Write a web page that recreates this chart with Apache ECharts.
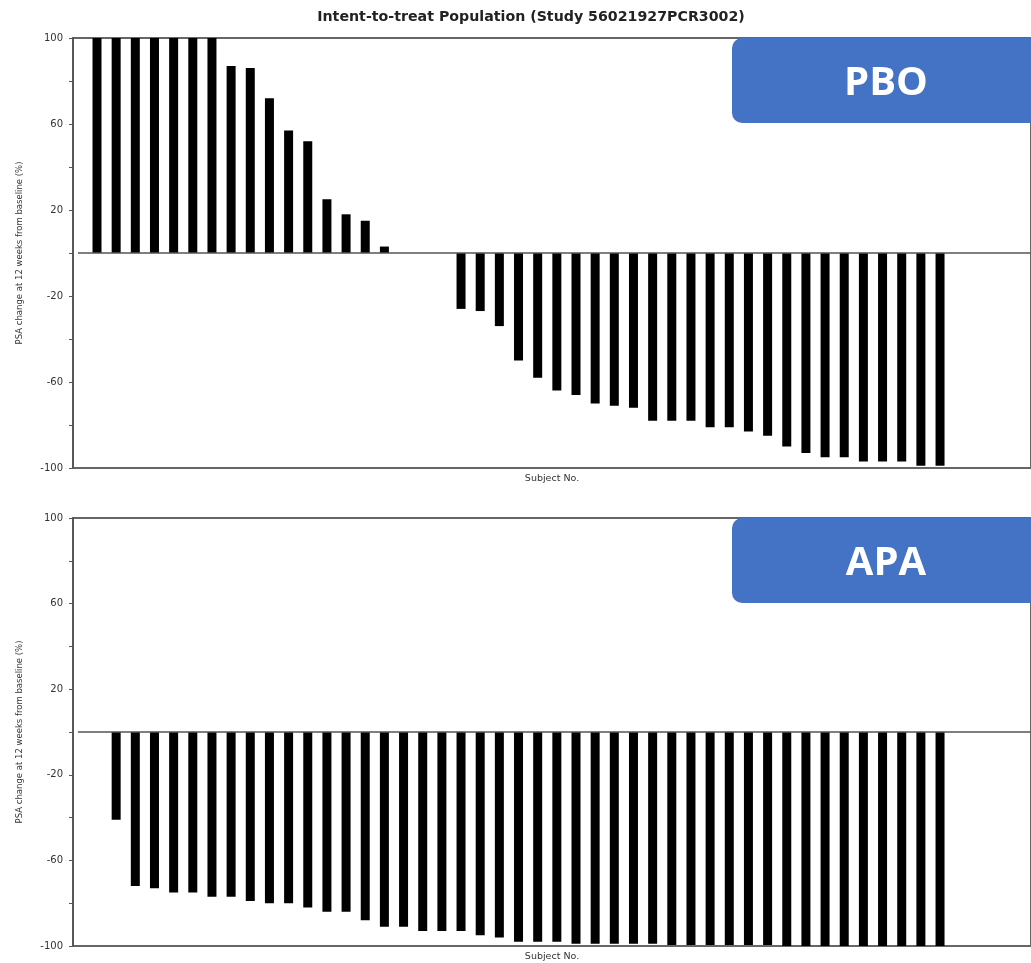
<!DOCTYPE html>
<html>
<head>
<meta charset="utf-8">
<script src="https://cdn.jsdelivr.net/npm/echarts@6/dist/echarts.min.js"></script>
<style>html,body{margin:0;padding:0;background:#fff}#c{width:1031px;height:963px}</style>
</head>
<body>
<div id="c"></div>
<script>
// ---- data ----
const titleText = 'Intent-to-treat Population (Study 56021927PCR3002)';
const yAxisName = 'PSA change at 12 weeks from baseline (%)';
const xAxisName = 'Subject No.';
const panelLabels = ['PBO', 'APA'];
const yTickLabels = [100, 60, 20, -20, -60, -100];
// one entry per subject slot (null = no bar)
const subjectSlots = Array.from({length: 45}, (_, i) => String(i + 1));
const pboValues = [100,100,100,100,100,100,100,87,86,72,57,52,25,18,15,3,null,null,null,
  -26,-27,-34,-50,-58,-64,-66,-70,-71,-72,-78,-78,-78,-81,-81,-83,-85,-90,-93,-95,-95,-97,-97,-97,-99,-99];
const apaValues = [null,-41,-72,-73,-75,-75,-77,-77,-79,-80,-80,-82,-84,-84,-88,-91,-91,-93,-93,-93,-95,-96,
  -98,-98,-98,-99,-99,-99,-99,-99,-99.5,-99.5,-99.5,-99.5,-99.5,-99.5,-100,-100,-100,-100,-100,-100,-100,-100,-100];

const chart = echarts.init(document.getElementById('c'), null, {renderer: 'canvas'});

const panelTops = [38, 518];
const panelHeights = [430, 428];
const FRAME_LEFT = 73, FRAME_WIDTH = 968;
const SLOT = 19.16, FIRST_CENTER = 97;
const BAR_LEFT = FIRST_CENTER - SLOT / 2, BAR_WIDTH = SLOT * subjectSlots.length;

const grid = [], xAxis = [], yAxis = [], series = [];
panelTops.forEach((top, p) => {
  const h = panelHeights[p];
  const fi = grid.length;
  // frame grid (axes, border, zero line)
  grid.push({left: FRAME_LEFT, top: top, width: FRAME_WIDTH, height: h, show: true,
    borderColor: '#666', borderWidth: 2, backgroundColor: 'transparent'});
  xAxis.push({type: 'value', gridIndex: fi, min: 0, max: 1,
    axisLine: {show: false}, axisTick: {show: false}, axisLabel: {show: false}, splitLine: {show: false},
    name: xAxisName, nameLocation: 'middle', nameGap: 6,
    nameTextStyle: {fontFamily: 'DejaVu Sans', fontSize: 9.5, color: '#333', verticalAlign: 'top'}});
  yAxis.push({type: 'value', gridIndex: fi, min: -100, max: 100, interval: 20,
    axisLine: {show: true, onZero: false, lineStyle: {color: '#555', width: 1.5}},
    axisTick: {show: true, length: 4, lineStyle: {color: '#555', width: 1}},
    splitLine: {show: false},
    axisLabel: {fontFamily: 'DejaVu Sans', fontSize: 10, color: '#333', margin: 10,
      formatter: v => yTickLabels.indexOf(v) >= 0 ? String(v) : ''},
    name: yAxisName, nameLocation: 'middle', nameRotate: 90, nameGap: 49,
    nameTextStyle: {fontFamily: 'DejaVu Sans', fontSize: 8.5, color: '#333'}});
  series.push({type: 'line', xAxisIndex: fi, yAxisIndex: fi, data: [], silent: true,
    markLine: {silent: true, symbol: 'none', animation: false,
      lineStyle: {color: '#555', width: 1.5, type: 'solid'}, label: {show: false},
      data: [[{coord: [5 / FRAME_WIDTH, 0]}, {coord: [1, 0]}]]}});
  // bar grid
  const bi = grid.length;
  grid.push({left: BAR_LEFT, top: top, width: BAR_WIDTH, height: h});
  xAxis.push({type: 'category', gridIndex: bi, data: subjectSlots, show: false});
  yAxis.push({type: 'value', gridIndex: bi, min: -100, max: 100, show: false, splitLine: {show: false}});
  series.push({type: 'bar', xAxisIndex: bi, yAxisIndex: bi,
    data: (p === 0 ? pboValues : apaValues).map(v => v === null ? '-' : v),
    barWidth: 9, itemStyle: {color: '#000'}, silent: true});
});

const graphic = [{
  type: 'text', x: 531, y: 17, z: 100,
  style: {text: titleText, fill: '#222', font: 'bold 14.2px "DejaVu Sans"', align: 'center', verticalAlign: 'middle'}
}];
panelTops.forEach((t, i) => {
  graphic.push({type: 'rect', shape: {x: 732, y: t, width: 310, height: 85, r: 10},
    style: {fill: '#4472C4'}, z: 100});
  graphic.push({type: 'text', x: 886, y: t + 46, z: 101,
    style: {text: panelLabels[i], fill: '#fff', font: 'bold 40px "Open Sans"', align: 'center', verticalAlign: 'middle'}});
});

chart.setOption({animation: false, backgroundColor: '#fff', grid, xAxis, yAxis, series, graphic});
</script>
</body>
</html>
